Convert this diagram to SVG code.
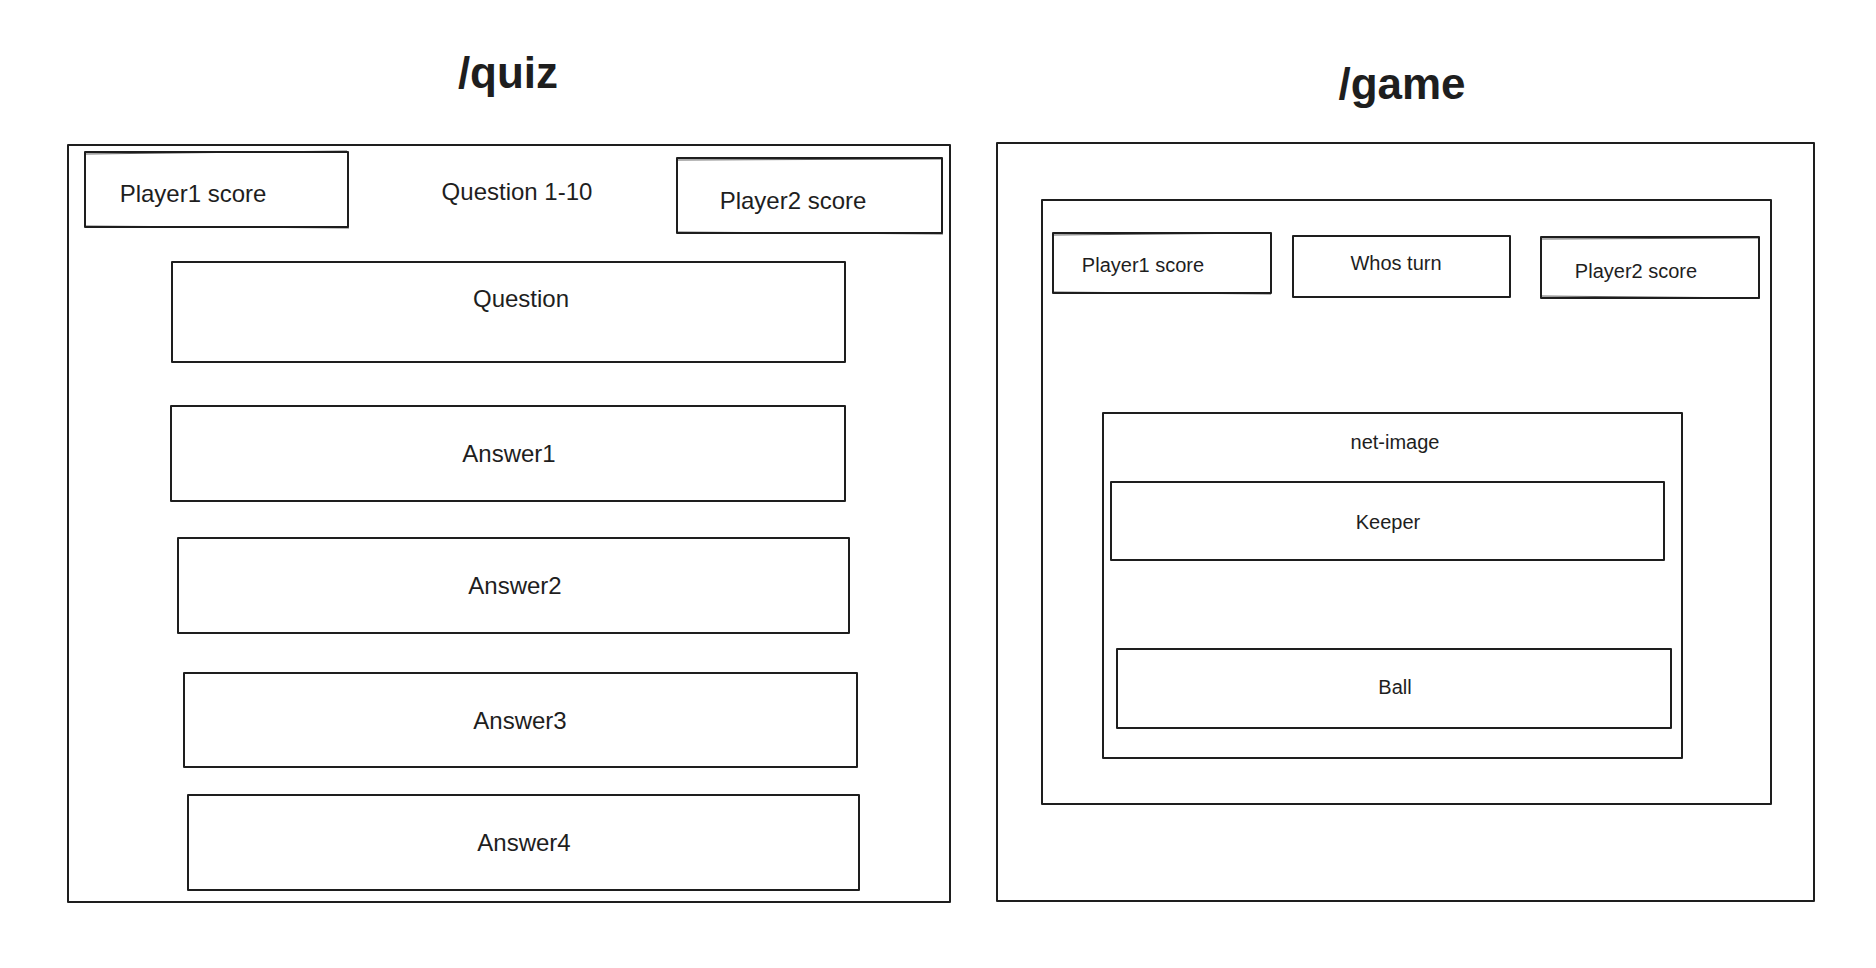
<svg xmlns="http://www.w3.org/2000/svg" width="1876" height="968" viewBox="0 0 1876 968">
  <style>
    .box { fill: none; stroke: #1e1e1e; stroke-width: 2; stroke-linejoin: round; }
    .sk { fill: none; stroke: #1e1e1e; stroke-width: 1; opacity: 0.7; }
    .title { font-family: "Liberation Sans", Arial, sans-serif; font-size: 44px; font-weight: bold; fill: #1e1e1e; text-anchor: middle; }
    .lq { font-family: "Liberation Sans", Arial, sans-serif; font-size: 24px; fill: #1e1e1e; text-anchor: middle; dominant-baseline: central; }
    .lg { font-family: "Liberation Sans", Arial, sans-serif; font-size: 20px; fill: #1e1e1e; text-anchor: middle; dominant-baseline: central; }
  </style>
  <rect x="0" y="0" width="1876" height="968" fill="#ffffff"/>

  <!-- page titles -->
  <text id="title-quiz" class="title" x="508" y="88">/quiz</text>
  <text id="title-game" class="title" x="1402" y="99">/game</text>

  <!-- quiz screen -->
  <g id="quiz-frame">
    <rect class="box" x="68" y="145" width="882" height="757"/>
  </g>
  <g id="quiz-player1">
    <rect class="box" x="85" y="152" width="263" height="75"/>
    <path class="sk" d="M86 154 L347 151 M84 226 L349 228"/>
    <text class="lq" x="193" y="193">Player1 score</text>
  </g>
  <g id="quiz-progress">
    <text class="lq" x="517" y="191">Question 1-10</text>
  </g>
  <g id="quiz-player2">
    <rect class="box" x="677" y="158" width="265" height="75"/>
    <path class="sk" d="M678 160 L941 159 M676 232 L943 234"/>
    <text class="lq" x="793" y="200">Player2 score</text>
  </g>
  <g id="quiz-question">
    <rect class="box" x="172" y="262" width="673" height="100"/>
    <text class="lq" x="521" y="298">Question</text>
  </g>
  <g id="quiz-answer1">
    <rect class="box" x="171" y="406" width="674" height="95"/>
    <text class="lq" x="509" y="453">Answer1</text>
  </g>
  <g id="quiz-answer2">
    <rect class="box" x="178" y="538" width="671" height="95"/>
    <text class="lq" x="515" y="585">Answer2</text>
  </g>
  <g id="quiz-answer3">
    <rect class="box" x="184" y="673" width="673" height="94"/>
    <text class="lq" x="520" y="720">Answer3</text>
  </g>
  <g id="quiz-answer4">
    <rect class="box" x="188" y="795" width="671" height="95"/>
    <text class="lq" x="524" y="842">Answer4</text>
  </g>

  <!-- game screen -->
  <g id="game-frame">
    <rect class="box" x="997" y="143" width="817" height="758"/>
  </g>
  <g id="game-board">
    <rect class="box" x="1042" y="200" width="729" height="604"/>
  </g>
  <g id="game-player1">
    <rect class="box" x="1053" y="233" width="218" height="60"/>
    <path class="sk" d="M1054 235 L1270 233 M1053 292 L1271 294"/>
    <text class="lg" x="1143" y="265">Player1 score</text>
  </g>
  <g id="game-turn">
    <rect class="box" x="1293" y="236" width="217" height="61"/>
    <text class="lg" x="1396" y="263">Whos turn</text>
  </g>
  <g id="game-player2">
    <rect class="box" x="1541" y="237" width="218" height="61"/>
    <path class="sk" d="M1542 239 L1758 238 M1540 296 L1760 298"/>
    <text class="lg" x="1636" y="271">Player2 score</text>
  </g>
  <g id="game-net">
    <rect class="box" x="1103" y="413" width="579" height="345"/>
    <text class="lg" x="1395" y="442">net-image</text>
  </g>
  <g id="game-keeper">
    <rect class="box" x="1111" y="482" width="553" height="78"/>
    <text class="lg" x="1388" y="522">Keeper</text>
  </g>
  <g id="game-ball">
    <rect class="box" x="1117" y="649" width="554" height="79"/>
    <text class="lg" x="1395" y="687">Ball</text>
  </g>

  <g id="connectors"/>
</svg>
